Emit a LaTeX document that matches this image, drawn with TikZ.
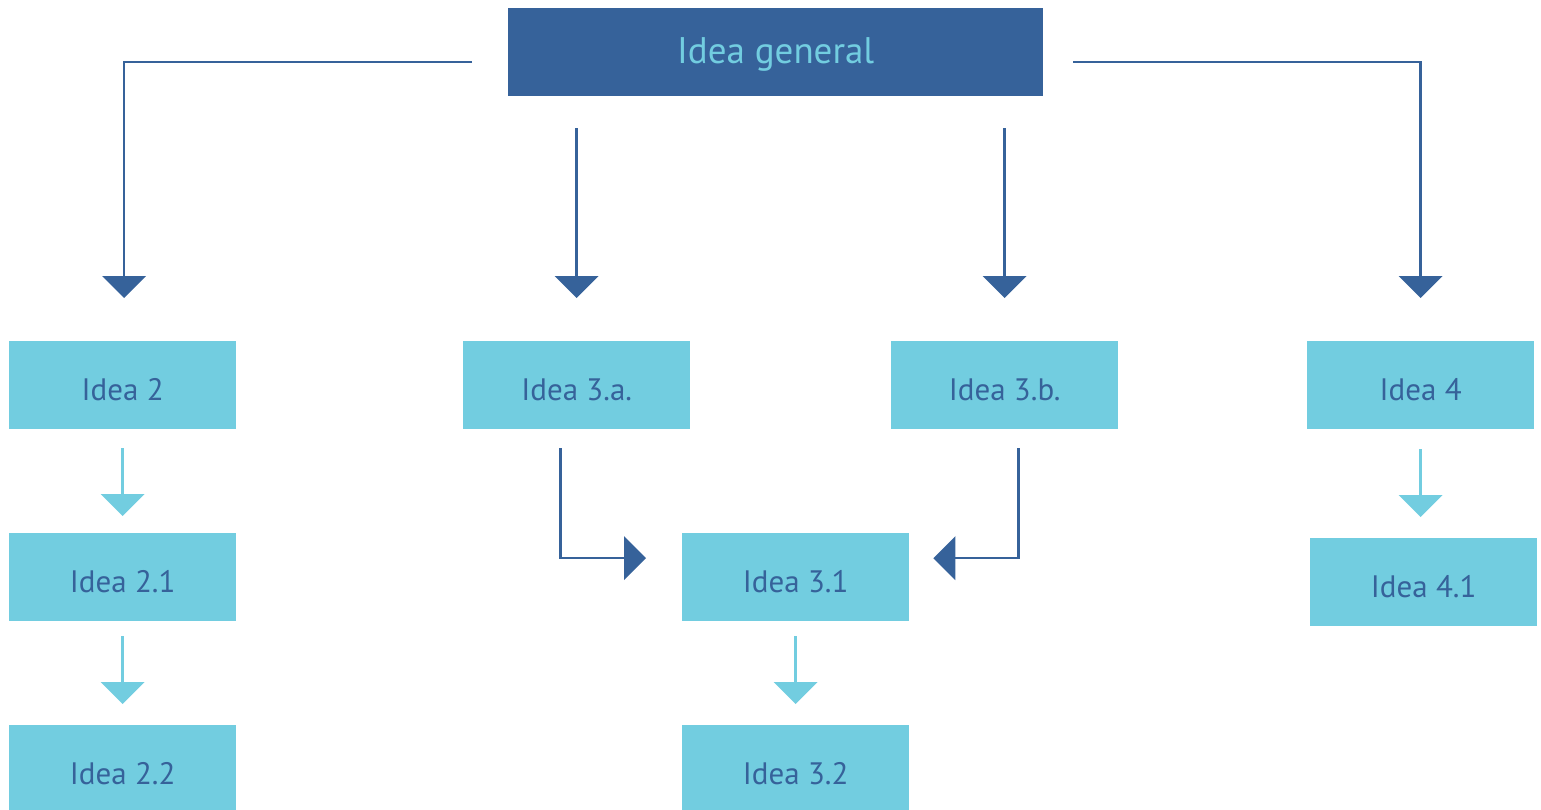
\documentclass[tikz,border=0pt]{standalone}
\usepackage{fontspec}
\setmainfont{PT Sans}
\usetikzlibrary{arrows.meta,calc}
\definecolor{navy}{HTML}{36629A}
\definecolor{sky}{HTML}{72CDE0}
\begin{document}
\begin{tikzpicture}[x=1pt,y=-1pt,
  box/.style={fill=sky, text=navy, minimum width=227pt, minimum height=88pt,
    inner sep=0pt, anchor=north west, text height=30pt, text depth=0pt,
    font=\fontsize{31}{36}\selectfont},
  headbox/.style={fill=navy, text=sky, minimum width=535pt, minimum height=88pt,
    inner sep=0pt, anchor=north west, text height=28pt, text depth=6pt,
    font=\fontsize{37}{42}\selectfont},
  bigtip/.tip={Triangle[length=22pt,width=44pt,line width=0pt]},
  darkarrow/.style={draw=navy, line width=2.5pt, -bigtip},
  lightarrow/.style={draw=sky, line width=2.5pt, -bigtip}]
\useasboundingbox (0,0) rectangle (1541,809);
\clip (0,0) rectangle (1541,809);

% main idea
\node[headbox] (g) at (508,8) {Idea general};

% first level
\node[box] (i2)  at (9,341)    {Idea 2};
\node[box] (i3a) at (463,341)  {Idea 3.a.};
\node[box] (i3b) at (891,341)  {Idea 3.b.};
\node[box] (i4)  at (1307,341) {Idea 4};

% second and third level
\node[box] (i21) at (9,533)    {Idea 2.1};
\node[box] (i22) at (9,725)    {Idea 2.2};
\node[box] (i31) at (682,533)  {Idea 3.1};
\node[box] (i32) at (682,725)  {Idea 3.2};
\node[box] (i41) at (1310,538) {Idea 4.1};

% connector end points
\coordinate (gl) at ($(g.west)+(-36,10)$);
\coordinate (gr) at ($(g.east)+(30,10)$);
\coordinate (a1) at ($(i3a.south)+(-16,19)$);
\coordinate (a2) at ($(i31.west)+(-36,-19)$);
\coordinate (b1) at ($(i3b.south)+(14,19)$);
\coordinate (b2) at ($(i31.east)+(24,-19)$);

% from the main idea
\draw[darkarrow, shorten >=43pt] (gl) -| ($(i2.north)+(1.5,0)$);
\draw[darkarrow, shorten <=32pt, shorten >=43pt] (g.south -| i3a.north) -- (i3a.north);
\draw[darkarrow, shorten <=32pt, shorten >=43pt] (g.south -| i3b.north) -- (i3b.north);
\draw[darkarrow, shorten >=43pt] (gr) -| (i4.north);

% joining into idea 3.1
\draw[darkarrow] (a1) |- (a2);
\draw[darkarrow] (b1) |- (b2);

% chains
\draw[lightarrow, shorten <=19pt, shorten >=17pt] (i2.south) -- (i21.north);
\draw[lightarrow, shorten <=15pt, shorten >=21pt] (i21.south) -- (i22.north);
\draw[lightarrow, shorten <=15pt, shorten >=21pt] (i31.south) -- (i32.north);
\draw[lightarrow, shorten <=20pt, shorten >=21pt] (i4.south) -- (i4.south |- i41.north);
\end{tikzpicture}
\end{document}
